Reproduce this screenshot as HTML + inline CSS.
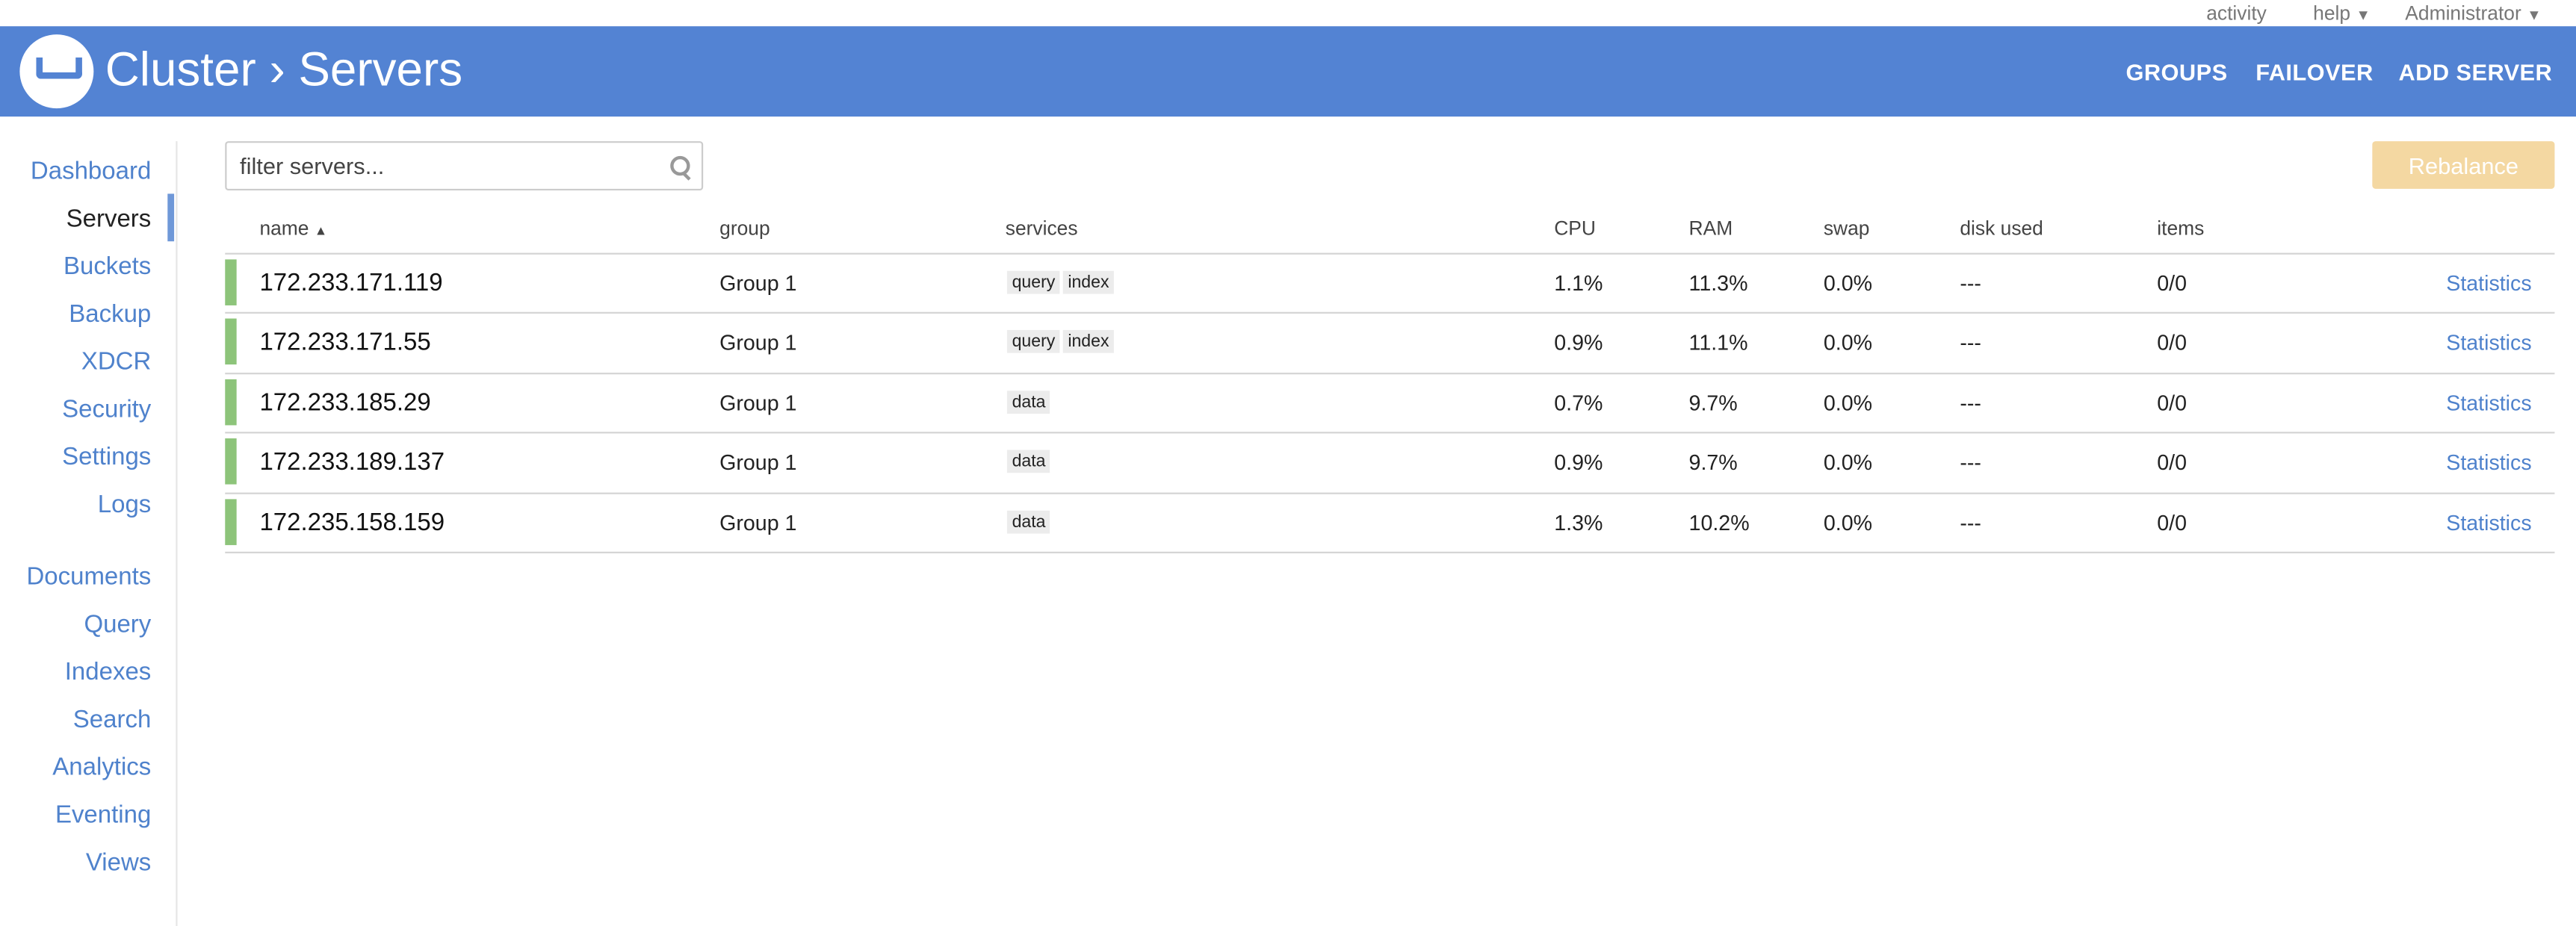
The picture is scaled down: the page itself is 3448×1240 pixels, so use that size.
<!DOCTYPE html>
<html><head><meta charset="utf-8"><style>
html,body{margin:0;padding:0;background:#fff;width:3448px;height:1240px;overflow:hidden}
#w{position:absolute;left:0;top:0;width:1568px;height:564px;transform:scale(2.19898,2.1986);transform-origin:0 0;font-family:"Liberation Sans",sans-serif}
.a{position:absolute;white-space:nowrap}
.top{font-size:12px;color:#777;top:1px}
.hdr{position:absolute;left:0;top:16px;width:1568px;height:55px;background:#5383d3}
.nav{font-size:14px;color:#fff;top:36px;font-weight:bold;letter-spacing:0.2px}
.side{font-size:15px;color:#4f82cc;right:1476px;text-align:right}
.th{font-size:12px;color:#444;top:132px}
.line{position:absolute;left:137px;width:1418px;height:1px;background:#d4d4d4}
.bar{position:absolute;left:137px;width:7px;background:#8dc47a}
.nm{font-size:15px;color:#111;left:158px}
.c{font-size:13px;color:#222}
.bd{font-size:10.5px;color:#222;background:#ececec;padding:1px 3px;position:absolute}
.st{font-size:13px;color:#4f82cc;right:27px}
</style></head><body><div id="w">
<div class="a top" style="left:1343px">activity</div>
<div class="a top" style="left:1408px">help <span style="font-size:9px">▼</span></div>
<div class="a top" style="left:1464px">Administrator <span style="font-size:9px">▼</span></div>
<div class="hdr"></div>
<div class="a" style="left:12px;top:21px;width:45px;height:45px;border-radius:50%;background:#fff"></div>
<div class="a" style="left:22px;top:35px;width:20px;height:9px;border:4px solid #5383d3;border-top:none;border-radius:0 0 3px 3px"></div>
<div class="a" style="left:29px;top:35px;width:10px;height:4px;background:#fff"></div>
<div class="a" style="left:64px;top:27px;font-size:29px;color:#fff">Cluster › Servers</div>
<div class="a nav" style="left:1294px">GROUPS</div>
<div class="a nav" style="left:1373px">FAILOVER</div>
<div class="a nav" style="left:1460px">ADD SERVER</div>

<div class="a" style="left:107px;top:86px;width:1px;height:478px;background:#e6e6e6"></div>
<div class="a" style="left:102px;top:118px;width:4px;height:29px;background:#6f98d8"></div>
<div class="a side" style="top:96px">Dashboard</div>
<div class="a side" style="top:125px;color:#222">Servers</div>
<div class="a side" style="top:154px">Buckets</div>
<div class="a side" style="top:183px">Backup</div>
<div class="a side" style="top:212px">XDCR</div>
<div class="a side" style="top:241px">Security</div>
<div class="a side" style="top:270px">Settings</div>
<div class="a side" style="top:299px">Logs</div>
<div class="a side" style="top:343px">Documents</div>
<div class="a side" style="top:372px">Query</div>
<div class="a side" style="top:401px">Indexes</div>
<div class="a side" style="top:430px">Search</div>
<div class="a side" style="top:459px">Analytics</div>
<div class="a side" style="top:488px">Eventing</div>
<div class="a side" style="top:517px">Views</div>

<div class="a" style="left:137px;top:86px;width:289px;height:28px;border:1px solid #ccc;border-radius:2px"></div>
<div class="a" style="left:146px;top:93px;font-size:14px;color:#444">filter servers...</div>
<div class="a" style="left:408px;top:95px;width:8px;height:8px;border:2px solid #999;border-radius:50%"></div>
<div class="a" style="left:417px;top:105px;width:2px;height:5px;background:#999;transform:rotate(-45deg)"></div>
<div class="a" style="left:1444px;top:86px;width:111px;height:29px;background:#f4d8a2;border-radius:2px;color:#fff;font-size:14px;text-align:center;line-height:31px">Rebalance</div>

<div class="a th" style="left:158px">name <span style="font-size:8px">▲</span></div>
<div class="a th" style="left:438px">group</div>
<div class="a th" style="left:612px">services</div>
<div class="a th" style="left:946px">CPU</div>
<div class="a th" style="left:1028px">RAM</div>
<div class="a th" style="left:1110px">swap</div>
<div class="a th" style="left:1193px">disk used</div>
<div class="a th" style="left:1313px">items</div>

<div class="line" style="top:154px"></div>
<div class="line" style="top:190px"></div>
<div class="line" style="top:227px"></div>
<div class="line" style="top:263px"></div>
<div class="line" style="top:300px"></div>
<div class="line" style="top:336px"></div>

<div class="bar" style="top:158px;height:28px"></div>
<div class="bar" style="top:194px;height:28px"></div>
<div class="bar" style="top:231px;height:28px"></div>
<div class="bar" style="top:267px;height:28px"></div>
<div class="bar" style="top:304px;height:28px"></div>

<div class="a nm" style="top:164px">172.233.171.119</div>
<div class="a nm" style="top:200px">172.233.171.55</div>
<div class="a nm" style="top:237px">172.233.185.29</div>
<div class="a nm" style="top:273px">172.233.189.137</div>
<div class="a nm" style="top:310px">172.235.158.159</div>

<div class="a c" style="left:438px;top:165px">Group 1</div>
<div class="a c" style="left:438px;top:201px">Group 1</div>
<div class="a c" style="left:438px;top:238px">Group 1</div>
<div class="a c" style="left:438px;top:274px">Group 1</div>
<div class="a c" style="left:438px;top:311px">Group 1</div>

<div class="bd" style="left:613px;top:165px">query</div><div class="bd" style="left:647px;top:165px">index</div>
<div class="bd" style="left:613px;top:201px">query</div><div class="bd" style="left:647px;top:201px">index</div>
<div class="bd" style="left:613px;top:238px">data</div>
<div class="bd" style="left:613px;top:274px">data</div>
<div class="bd" style="left:613px;top:311px">data</div>

<div class="a c" style="left:946px;top:165px">1.1%</div><div class="a c" style="left:1028px;top:165px">11.3%</div><div class="a c" style="left:1110px;top:165px">0.0%</div><div class="a c" style="left:1193px;top:165px">---</div><div class="a c" style="left:1313px;top:165px">0/0</div><div class="a st" style="top:165px">Statistics</div>
<div class="a c" style="left:946px;top:201px">0.9%</div><div class="a c" style="left:1028px;top:201px">11.1%</div><div class="a c" style="left:1110px;top:201px">0.0%</div><div class="a c" style="left:1193px;top:201px">---</div><div class="a c" style="left:1313px;top:201px">0/0</div><div class="a st" style="top:201px">Statistics</div>
<div class="a c" style="left:946px;top:238px">0.7%</div><div class="a c" style="left:1028px;top:238px">9.7%</div><div class="a c" style="left:1110px;top:238px">0.0%</div><div class="a c" style="left:1193px;top:238px">---</div><div class="a c" style="left:1313px;top:238px">0/0</div><div class="a st" style="top:238px">Statistics</div>
<div class="a c" style="left:946px;top:274px">0.9%</div><div class="a c" style="left:1028px;top:274px">9.7%</div><div class="a c" style="left:1110px;top:274px">0.0%</div><div class="a c" style="left:1193px;top:274px">---</div><div class="a c" style="left:1313px;top:274px">0/0</div><div class="a st" style="top:274px">Statistics</div>
<div class="a c" style="left:946px;top:311px">1.3%</div><div class="a c" style="left:1028px;top:311px">10.2%</div><div class="a c" style="left:1110px;top:311px">0.0%</div><div class="a c" style="left:1193px;top:311px">---</div><div class="a c" style="left:1313px;top:311px">0/0</div><div class="a st" style="top:311px">Statistics</div>
</div></body></html>
